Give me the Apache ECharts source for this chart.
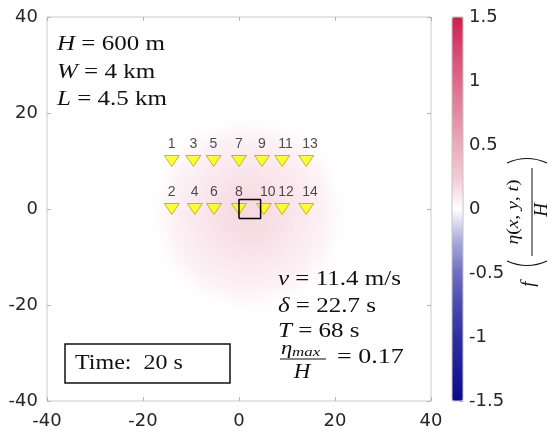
<!DOCTYPE html>
<html>
<head>
<meta charset="utf-8">
<script src="https://cdn.jsdelivr.net/npm/echarts@6/dist/echarts.min.js"></script>
<style>
  html, body { margin: 0; padding: 0; background: #fff; }
  #wrap { position: relative; width: 552px; height: 439px; }
  #field, #chart { position: absolute; left: 0; top: 0; width: 552px; height: 439px; }
  #field { filter: blur(6px); }
</style>
</head>
<body>
<div id="wrap">
  <div id="field"></div>
  <div id="chart"></div>
</div>
<script>
// Plot extent (km) and colour-scale extent
const axisRange = [-40, 40];
const axisStep = 20;
const cbarRange = [-1.5, 1.5];
const cbarStep = 0.5;

// Colour map, from -1.5 (blue) through 0 (white) to 1.5 (red), in steps of 0.25
const colorStops = [
  '#0a0a8c', '#1c1c97', '#2f2fa2', '#4a4ab1', '#6e6ec3', '#aaaadc', '#ffffff',
  '#f3c9d6', '#ebabbf', '#e48aa4', '#de6a8a', '#d94670', '#d31c4e'
];

// Normalised surface elevation f(eta/H) at 20 s, on a 3 km grid
const fieldX = [-16, -13, -10, -7, -4, -1, 2, 5, 8, 11, 14, 17, 20];
const fieldY = [17, 14, 11, 8, 5, 2, -1, -4, -7, -10, -13, -16, -19];
const fieldRows = [
  [0, 0, 0, 0, 0.01, 0.025, 0.03, 0.025, 0.01, 0, 0, 0, 0],
  [0, 0, 0.005, 0.045, 0.06, 0.068, 0.07, 0.068, 0.06, 0.045, 0.005, 0, 0],
  [0, 0.005, 0.05, 0.07, 0.082, 0.09, 0.095, 0.09, 0.082, 0.07, 0.05, 0.005, 0],
  [0, 0.045, 0.07, 0.088, 0.105, 0.115, 0.12, 0.115, 0.105, 0.088, 0.07, 0.045, 0],
  [0.01, 0.06, 0.082, 0.105, 0.125, 0.14, 0.145, 0.14, 0.125, 0.105, 0.082, 0.06, 0.01],
  [0.025, 0.068, 0.09, 0.115, 0.14, 0.16, 0.165, 0.16, 0.14, 0.115, 0.09, 0.068, 0.025],
  [0.03, 0.07, 0.095, 0.12, 0.145, 0.165, 0.17, 0.165, 0.145, 0.12, 0.095, 0.07, 0.03],
  [0.025, 0.068, 0.09, 0.115, 0.14, 0.16, 0.168, 0.162, 0.14, 0.115, 0.09, 0.068, 0.025],
  [0.01, 0.06, 0.082, 0.105, 0.125, 0.14, 0.148, 0.142, 0.127, 0.105, 0.082, 0.06, 0.01],
  [0, 0.045, 0.07, 0.088, 0.105, 0.115, 0.12, 0.117, 0.105, 0.088, 0.07, 0.045, 0],
  [0, 0.005, 0.05, 0.07, 0.082, 0.09, 0.095, 0.09, 0.082, 0.07, 0.05, 0.005, 0],
  [0, 0, 0.005, 0.045, 0.06, 0.068, 0.07, 0.068, 0.06, 0.045, 0.005, 0, 0],
  [0, 0, 0, 0, 0.01, 0.025, 0.03, 0.025, 0.01, 0, 0, 0, 0]
];
const fieldCell = 3;

// Gauge stations
const stationNo = [1, 3, 5, 7, 9, 11, 13, 2, 4, 6, 8, 10, 12, 14];
const stationX = [-14, -9.5, -5.3, 0, 4.8, 9, 14, -14, -9.2, -5.2, 0, 5.2, 9, 14];
const stationY = [10, 10, 10, 10, 10, 10, 10, 0, 0, 0, 0, 0, 0, 0];

// Slide footprint (L = 4.5 km, W = 4 km)
const sourceX = [0, 4.5, 4.5, 0, 0];
const sourceY = [-2, -2, 2, 2, -2];

const SERIF = '"Liberation Serif", "DejaVu Serif", serif';
const SANS = '"DejaVu Sans", "Liberation Sans", sans-serif';

const plotGrid = { left: 47, top: 17, width: 384, height: 384 };

// ---------- field layer (soft-rendered underneath) ----------
const fieldData = [];
fieldRows.forEach((row, j) => row.forEach((v, i) => fieldData.push([fieldX[i], fieldY[j], v])));

const field = echarts.init(document.getElementById('field'), null, { renderer: 'canvas' });
field.setOption({
  backgroundColor: 'transparent',
  animation: false,
  grid: Object.assign({ show: false }, plotGrid),
  xAxis: { type: 'value', min: axisRange[0], max: axisRange[1], show: false },
  yAxis: { type: 'value', min: axisRange[0], max: axisRange[1], show: false },
  visualMap: {
    type: 'continuous', show: false, min: cbarRange[0], max: cbarRange[1],
    dimension: 2, seriesIndex: 0, inRange: { color: colorStops }
  },
  series: [{
    type: 'custom',
    data: fieldData,
    encode: { x: 0, y: 1 },
    renderItem: function (params, api) {
      const x = api.value(0), y = api.value(1);
      const p = api.coord([x - fieldCell / 2, y + fieldCell / 2]);
      const s = api.size([fieldCell, fieldCell]);
      return {
        type: 'rect',
        shape: { x: p[0], y: p[1], width: s[0] + 0.5, height: s[1] + 0.5 },
        style: { fill: api.visual('color') }
      };
    }
  }]
});

// ---------- main layer ----------
const stationData = stationNo.map((n, i) => ({ name: String(n), value: [stationX[i], stationY[i]] }));
const sourceData = sourceX.map((x, i) => [x, sourceY[i]]);

const tickStyle = { show: true, inside: true, length: 4, lineStyle: { color: '#b5b5b5', width: 1 } };
const noLine = { show: false, onZero: false };
const labelStyle = { color: '#262626', fontFamily: SANS, fontSize: 18 };

function txt(x, y, text, size, extra) {
  return Object.assign({
    type: 'text', x: x, y: y, z: 20,
    style: {
      text: text, fill: '#111', fontFamily: SERIF, fontSize: size,
      verticalAlign: 'middle', align: 'left',
      rich: {
        i: { fontFamily: SERIF, fontSize: size, fontStyle: 'italic', fill: '#111' },
        r: { fontFamily: SERIF, fontSize: size, fill: '#111' }
      }
    }
  }, extra || {});
}

const chart = echarts.init(document.getElementById('chart'), null, { renderer: 'canvas' });
chart.setOption({
  backgroundColor: 'transparent',
  animation: false,
  grid: [
    Object.assign({ show: true, borderColor: '#cbcbcb', borderWidth: 1, backgroundColor: 'transparent' }, plotGrid),
    { left: 452, top: 17, width: 11, height: 384, show: true, z: 10, borderColor: '#c4c4c4', borderWidth: 1, backgroundColor: 'transparent' }
  ],
  xAxis: [
    { gridIndex: 0, type: 'value', min: axisRange[0], max: axisRange[1], interval: axisStep, position: 'bottom',
      axisLine: noLine, axisTick: tickStyle, splitLine: { show: false },
      axisLabel: Object.assign({ margin: 11 }, labelStyle) },
    { gridIndex: 0, type: 'value', min: axisRange[0], max: axisRange[1], interval: axisStep, position: 'top',
      axisLine: noLine, axisTick: tickStyle, splitLine: { show: false }, axisLabel: { show: false } },
    { gridIndex: 1, type: 'value', min: 0, max: 1, show: false }
  ],
  yAxis: [
    { gridIndex: 0, type: 'value', min: axisRange[0], max: axisRange[1], interval: axisStep, position: 'left',
      axisLine: noLine, axisTick: tickStyle, splitLine: { show: false },
      axisLabel: Object.assign({ margin: 9 }, labelStyle) },
    { gridIndex: 0, type: 'value', min: axisRange[0], max: axisRange[1], interval: axisStep, position: 'right',
      axisLine: noLine, axisTick: tickStyle, splitLine: { show: false }, axisLabel: { show: false } },
    { gridIndex: 1, type: 'value', min: cbarRange[0], max: cbarRange[1], interval: cbarStep, position: 'right',
      axisLine: noLine, splitLine: { show: false },
      axisTick: { show: true, inside: true, length: 3, lineStyle: { color: '#9a9a9a', width: 1 } },
      axisLabel: Object.assign({ margin: 6 }, labelStyle) }
  ],
  visualMap: {
    type: 'continuous', min: cbarRange[0], max: cbarRange[1], seriesIndex: [],
    left: 452, top: 17, itemWidth: 11, itemHeight: 384, padding: 0,
    calculable: false, hoverLink: false, inRange: { color: colorStops }
  },
  series: [
    {
      type: 'scatter', xAxisIndex: 0, yAxisIndex: 0, z: 5,
      data: stationData,
      symbol: 'triangle', symbolRotate: 180, symbolSize: [15, 11],
      itemStyle: { color: '#ffff00', borderColor: '#8f8f3a', borderWidth: 0.8 },
      label: {
        show: true, position: 'top', distance: 4, align: 'left', offset: [-4, 0],
        formatter: '{b}', color: '#222', fontFamily: '"Liberation Sans", Arial, sans-serif', fontSize: 14
      },
      emphasis: { disabled: true }
    },
    {
      type: 'line', xAxisIndex: 0, yAxisIndex: 0, z: 6,
      data: sourceData, symbol: 'none',
      lineStyle: { color: '#000', width: 1.5 }
    }
  ],
  graphic: [
    // model parameters
    txt(57, 45, '{i|H}{r| = 600 m}', 20, { scaleX: 1.25 }),
    txt(57, 73, '{i|W}{r| = 4 km}', 20, { scaleX: 1.25 }),
    txt(57, 100, '{i|L}{r| = 4.5 km}', 20, { scaleX: 1.25 }),
    // slide parameters
    txt(278, 280, '{i|v}{r| = 11.4 m/s}', 20, { scaleX: 1.25 }),
    txt(278, 307, '{i|δ}{r| = 22.7 s}', 20, { scaleX: 1.25 }),
    txt(278, 332, '{i|T}{r| = 68 s}', 20, { scaleX: 1.25 }),
    txt(281, 349, '{i|η}', 19, { scaleX: 1.2 }),
    txt(292, 353, '{i|max}', 13, { scaleX: 1.3 }),
    { type: 'line', z: 20, shape: { x1: 280, y1: 359, x2: 326, y2: 359 }, style: { stroke: '#111', lineWidth: 1.2 } },
    txt(302, 373, '{i|H}', 20, { scaleX: 1.15, style: { text: '{i|H}', align: 'center', verticalAlign: 'middle', rich: { i: { fontFamily: SERIF, fontSize: 20, fontStyle: 'italic', fill: '#111' } } } }),
    txt(337, 358, '{r|= 0.17}', 20, { scaleX: 1.3 }),
    // time stamp
    { type: 'rect', z: 20, shape: { x: 65, y: 344, width: 165, height: 39 },
      style: { fill: '#fff', stroke: '#111', lineWidth: 1.5 } },
    txt(75, 364, '{r|Time:  20 s}', 20, { z: 21, scaleX: 1.2 }),
    // colour-bar title
    {
      type: 'group', x: 532, y: 212, rotation: Math.PI / 2, z: 20,
      children: [
        { type: 'text', x: -72, y: -3, style: { text: 'f', fontFamily: SERIF, fontSize: 19, fontStyle: 'italic', fill: '#111', align: 'center', verticalAlign: 'middle' } },
        { type: 'bezierCurve', shape: { x1: -49, y1: -25, x2: -49, y2: 15, cpx1: -58, cpy1: -5 }, style: { stroke: '#111', lineWidth: 1.2, fill: null } },
        { type: 'bezierCurve', shape: { x1: 49, y1: -25, x2: 49, y2: 15, cpx1: 58, cpy1: -5 }, style: { stroke: '#111', lineWidth: 1.2, fill: null } },
        { type: 'text', x: 0, y: -18, scaleX: 1.15, style: {
            text: '{i|η}{r|(}{i|x}{r|, }{i|y}{r|, }{i|t}{r|)}', align: 'center', verticalAlign: 'middle',
            rich: {
              i: { fontFamily: SERIF, fontSize: 17, fontStyle: 'italic', fill: '#111' },
              r: { fontFamily: SERIF, fontSize: 17, fill: '#111' }
            } } },
        { type: 'line', shape: { x1: -44, y1: 0, x2: 44, y2: 0 }, style: { stroke: '#111', lineWidth: 1 } },
        { type: 'text', x: 2, y: 10, style: { text: 'H', fontFamily: SERIF, fontSize: 19, fontStyle: 'italic', fill: '#111', align: 'center', verticalAlign: 'middle' } }
      ]
    }
  ]
});
</script>
</body>
</html>
